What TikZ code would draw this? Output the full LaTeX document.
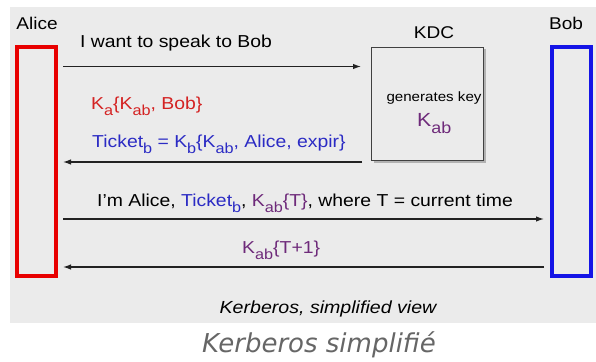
\documentclass[tikz,border=0pt]{standalone}
\usepackage{fontspec}
\setmainfont{Liberation Sans}[FakeStretch=1.12]
\newfontfamily\capfont{DejaVu Sans}
\usetikzlibrary{arrows.meta,shadows}
\definecolor{bgc}{HTML}{EBEBEB}
\definecolor{kred}{HTML}{D42222}
\definecolor{kblue}{HTML}{2B2BC4}
\definecolor{kpurple}{HTML}{6E2A7A}
\definecolor{rectred}{HTML}{E80000}
\definecolor{rectblue}{HTML}{1414E6}
\definecolor{capgray}{HTML}{666666}
\definecolor{linec}{HTML}{222222}
\newcommand\lowsub[1]{\raisebox{-6.5pt}{\fontsize{14.5}{15}\selectfont #1}}
\tikzset{
  party/.style={draw, line width=4pt, minimum width=39pt, minimum height=229pt, inner sep=0pt},
  lbl/.style={inner sep=0pt, anchor=base, font=\fontsize{17}{18}\selectfont},
  msgtext/.style={inner sep=0pt, anchor=base west, font=\fontsize{17.3}{18}\selectfont},
  msg/.style={draw=linec, line width=1.2pt, -{Latex[length=8pt,width=5.5pt]}},
  kdcbox/.style={draw=black!75, line width=1.3pt, fill=bgc, minimum width=112pt, minimum height=113pt, inner sep=0pt,
    drop shadow={shadow xshift=2pt, shadow yshift=-2pt, fill=black!45, opacity=0.6}}
}
\begin{document}
\begin{tikzpicture}[x=1pt,y=-1pt]
\useasboundingbox (0,0) rectangle (596,361);
\fill[bgc] (10,7) rectangle (596,323);
% parties
\node[party, draw=rectred] (alice) at (36.5,161.5) {};
\node[party, draw=rectblue] (bob) at (571,161.5) {};
\node[kdcbox] (kdc) at (427.5,104) {};
\node[lbl] (alicelbl) at (37,30) {Alice};
\node[lbl] (boblbl) at (566,30) {Bob};
\node[lbl] (kdclbl) at (434,38) {KDC};
\node[inner sep=0pt, anchor=base, font=\fontsize{13.5}{14}\selectfont] (gen) at (434,101) {generates key};
\node[inner sep=0pt, anchor=base west, font=\fontsize{19}{19}\selectfont, text=kpurple] (kab) at (417,126) {K\raisebox{-7pt}{\fontsize{16}{16}\selectfont ab}};
% connector endpoints
\coordinate (a1) at (63,66.5);
\coordinate (k1) at (361,66.5);
\coordinate (k2) at (362,162);
\coordinate (a2) at (63,162);
\coordinate (a3) at (63,219);
\coordinate (b3) at (544,219);
\coordinate (b4) at (544,267);
\coordinate (a4) at (63,267);
\draw[msg] (a1) -- (k1);
\draw[msg] (k2) -- (a2);
\draw[msg] (a3) -- (b3);
\draw[msg] (b4) -- (a4);
% messages
\node[msgtext] (m1) at (80,48) {I want to speak to Bob};
\node[msgtext, text=kred] (m2a) at (91,109) {K\lowsub{a}\{K\lowsub{ab}, Bob\}};
\node[msgtext, text=kblue] (m2b) at (92,147) {Ticket\lowsub{b} = K\lowsub{b}\{K\lowsub{ab}, Alice, expir\}};
\node[msgtext] (m3) at (97,206) {I'm Alice, \textcolor{kblue}{Ticket\lowsub{b}}, \textcolor{kpurple}{K\lowsub{ab}\{T\}}, where T = current time};
\node[msgtext, text=kpurple] (m4) at (242,253) {K\lowsub{ab}\{T+1\}};
\node[inner sep=0pt, anchor=base, font=\fontsize{17.5}{18}\selectfont\itshape] (view) at (328,313) {Kerberos, simplified view};
\node[inner sep=0pt, anchor=base, font=\capfont\fontsize{26}{27}\selectfont\itshape, text=capgray] (cap) at (319,352) {Kerberos simplifié};
\end{tikzpicture}
\end{document}
